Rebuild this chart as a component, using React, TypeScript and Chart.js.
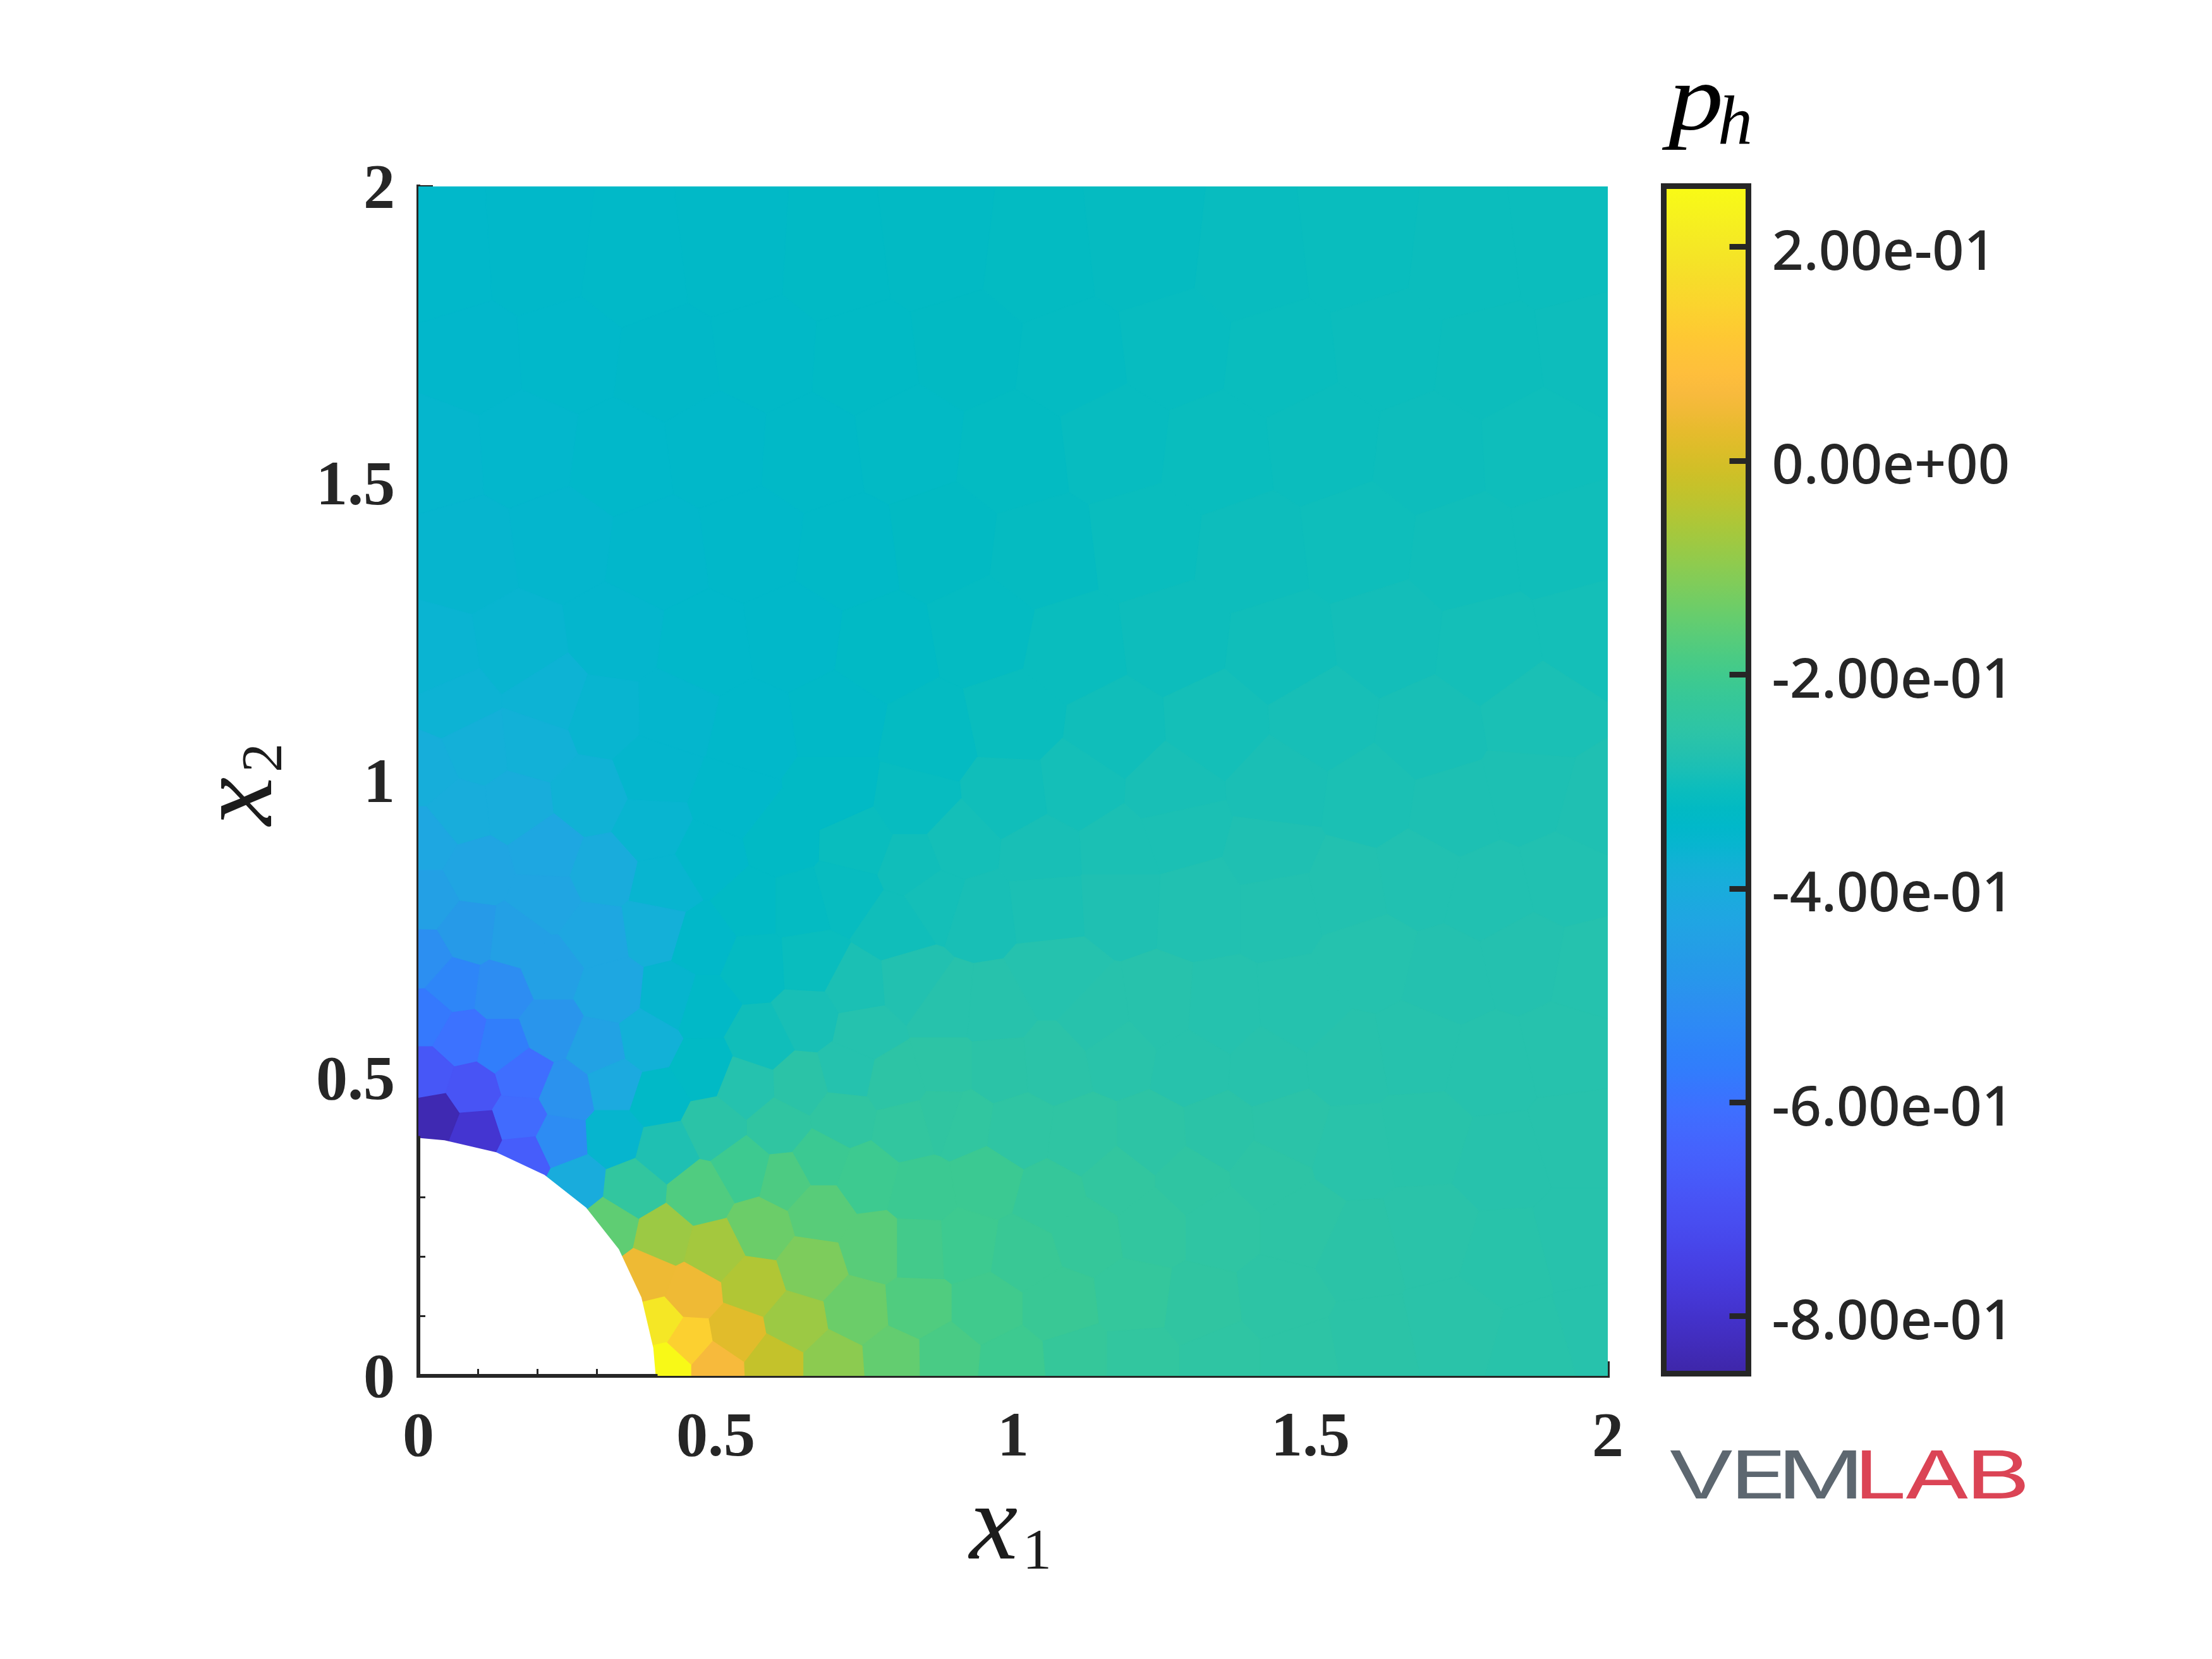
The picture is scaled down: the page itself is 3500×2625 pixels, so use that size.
import React, { useEffect, useRef } from "react";
import { Chart, registerables } from "chart.js";

Chart.register(...registerables);

// Each cell of the polygonal mesh: [x1, x2, p_h]
const cellsNearHoleRight: number[][] = [
  [.419,.020,.25],[.403,.089,.20],[.453,.057,.135],[.497,.018,.06],[.384,.167,.042],[.458,.139,.045],
  [.533,.071,.018],[.597,.022,-.027],[.561,.149,-.053],[.632,.089,-.08],[.696,.022,-.10],[.799,.029,-.15],
  [.738,.107,-.139],[.885,.030,-.185],[.497,.209,-.069],[.411,.231,-.08],[.660,.181,-.118],[.575,.248,-.139],
  [.474,.305,-.176],[.674,.277,-.165],[.767,.216,-.165],[.841,.216,-.195],[.837,.114,-.175],[.547,.347,-.205],
  [.616,.330,-.18],[.674,.362,-.21],[.752,.333,-.205],[.845,.309,-.21],[.416,.379,-.28],[.496,.418,-.255],
  [.607,.418,-.24],[.713,.436,-.24],[.820,.418,-.235],[.551,.486,-.27],[.643,.489,-.255],[.802,.493,-.25],
  [.721,.510,-.27],[.884,.436,-.24],[.362,.314,-.235],[.323,.250,-.155],
];
const cellsNearHoleTop: number[][] = [
  [.025,.435,-.84],[.096,.407,-.79],[.175,.368,-.66],[.169,.431,-.62],[.090,.480,-.69],[.013,.505,-.68],
  [.175,.505,-.61],[.071,.568,-.60],[.139,.553,-.565],[.013,.602,-.58],[.248,.475,-.50],[.236,.397,-.52],
  [.264,.324,-.40],[.328,.402,-.355],[.328,.490,-.41],[.303,.549,-.44],[.221,.583,-.49],[.139,.646,-.515],
  [.059,.656,-.54],[.322,.646,-.42],[.383,.563,-.38],[.425,.636,-.355],[.401,.466,-.335],[.478,.515,-.33],
];
const cellsUpperLeft: number[][] = [
  [.010,.700,-.51],[.084,.743,-.47],[.164,.734,-.45],[.221,.681,-.45],[.297,.739,-.42],[.397,.753,-.385],
  [.012,.800,-.45],[.098,.848,-.43],[.212,.800,-.43],[.311,.847,-.40],[.216,.881,-.42],[.012,.900,-.42],
  [.392,.919,-.36],[.411,.824,-.36],[.288,.971,-.375],[.397,1.014,-.35],[.164,.957,-.395],[.069,.947,-.395],
  [.012,1.014,-.39],[.098,1.052,-.385],[.193,1.061,-.38],[.311,1.108,-.36],[.487,.871,-.342],[.477,.729,-.34],
  [.525,.966,-.342],[.567,.691,-.32],[.658,.696,-.31],[.643,.790,-.32],[.577,.563,-.30],[.653,.601,-.29],
  [.477,.620,-.335],[.560,.790,-.33],[.610,.900,-.33],[.700,.980,-.33],
];
const cellsCentre: number[][] = [
  [1.0,.020,-.205],[1.103,.028,-.225],[1.211,.028,-.235],[1.347,.028,-.245],[1.482,.028,-.25],
  [.954,.113,-.20],[1.076,.113,-.215],[1.204,.127,-.23],[1.313,.113,-.24],[1.449,.127,-.25],
  [.92,.22,-.205],[1.015,.206,-.215],[1.123,.241,-.225],[1.232,.255,-.235],[1.347,.255,-.245],[1.482,.255,-.25],
  [.954,.327,-.21],[1.062,.298,-.225],[1.177,.327,-.235],[1.3,.327,-.243],[1.428,.341,-.25],
  [.913,.426,-.237],[1.008,.412,-.245],[1.116,.398,-.245],[1.232,.398,-.25],[1.347,.405,-.255],[1.462,.412,-.257],
  [.886,.519,-.25],[.974,.519,-.255],[1.069,.526,-.257],[1.177,.547,-.26],[1.3,.526,-.265],[1.428,.519,-.265],
  [.737,.654,-.285],[.825,.661,-.275],[.886,.618,-.265],[.967,.611,-.265],[1.069,.668,-.27],[1.143,.597,-.265],
  [1.245,.611,-.265],[1.347,.604,-.27],[1.482,.611,-.27],[.75,.58,-.27],
  [.716,.81,-.315],[.798,.754,-.30],[.872,.803,-.295],[.94,.782,-.29],[1.055,.796,-.285],[1.177,.803,-.28],
  [1.313,.796,-.277],[1.449,.796,-.275],
  [.737,.896,-.31],[.832,.86,-.30],[.906,.889,-.295],[1.049,.875,-.29],[1.177,.882,-.285],[1.279,.917,-.285],
  [1.435,.875,-.28],[.832,.96,-.315],[.994,.974,-.30],[1.11,.989,-.295],[1.265,.981,-.29],[1.449,.988,-.288],
];
const cellsRight: number[][] = [
  [1.60,.05,-.255],[1.74,.08,-.258],[1.88,.04,-.262],[1.98,.07,-.265],
  [1.58,.21,-.255],[1.70,.24,-.258],[1.83,.20,-.262],[1.95,.23,-.265],
  [1.57,.38,-.26],[1.69,.40,-.262],[1.82,.36,-.265],[1.95,.40,-.265],
  [1.56,.53,-.265],[1.68,.55,-.268],[1.80,.52,-.268],[1.93,.55,-.268],
  [1.60,.70,-.27],[1.73,.67,-.272],[1.86,.70,-.272],[1.97,.68,-.27],
  [1.56,.82,-.275],[1.68,.84,-.277],[1.80,.81,-.277],[1.93,.84,-.277],
  [1.60,.97,-.285],[1.74,.95,-.283],[1.87,.98,-.283],[1.98,.95,-.28],
];
const cellsUpper: number[][] = [
  [.06,1.13,-.37],[.22,1.14,-.37],[.43,1.11,-.35],[.56,1.08,-.342],[.70,1.10,-.335],[.86,1.07,-.32],
  [1.0,1.10,-.31],[1.17,1.08,-.30],[1.34,1.09,-.295],[1.52,1.10,-.292],[1.70,1.08,-.29],[1.88,1.11,-.287],
  [.03,1.20,-.365],[.17,1.22,-.36],[.33,1.24,-.35],[.48,1.22,-.343],[.63,1.24,-.34],[.78,1.22,-.33],
  [.95,1.25,-.32],[1.10,1.22,-.31],[1.27,1.24,-.305],[1.45,1.22,-.30],[1.63,1.24,-.297],[1.80,1.22,-.295],[1.97,1.25,-.295],
  [.08,1.38,-.355],[.24,1.40,-.35],[.40,1.38,-.345],[.56,1.40,-.34],[.72,1.38,-.335],[.88,1.40,-.325],
  [1.05,1.38,-.318],[1.22,1.40,-.31],[1.40,1.38,-.305],[1.58,1.40,-.303],[1.76,1.38,-.30],[1.93,1.40,-.30],
  [.03,1.55,-.352],[.18,1.56,-.347],[.34,1.54,-.343],[.50,1.56,-.34],[.66,1.55,-.335],[.82,1.57,-.328],
  [1.0,1.55,-.322],[1.17,1.57,-.315],[1.34,1.55,-.31],[1.52,1.57,-.307],[1.70,1.55,-.305],[1.88,1.56,-.303],
  [.09,1.71,-.345],[.25,1.72,-.342],[.42,1.70,-.338],[.58,1.72,-.335],[.75,1.71,-.33],[.92,1.73,-.325],
  [1.10,1.71,-.32],[1.27,1.73,-.315],[1.45,1.71,-.31],[1.63,1.73,-.308],[1.80,1.71,-.306],[1.97,1.73,-.305],
  [.04,1.87,-.342],[.20,1.88,-.34],[.36,1.86,-.337],[.53,1.88,-.334],[.70,1.87,-.33],[.87,1.89,-.326],
  [1.04,1.87,-.322],[1.22,1.89,-.318],[1.40,1.87,-.313],[1.58,1.89,-.31],[1.76,1.87,-.308],[1.93,1.89,-.307],
];

// The polygonal hole at the origin
const holeX = [0, 0, .044, .131, .212, .282, .337, .375, .395, .399];
const holeY = [0, .400, .396, .376, .338, .283, .213, .132, .047, 0];

const axisTicks = [0, .5, 1, 1.5, 2];
const axisTickLabels = ["0", "0.5", "1", "1.5", "2"];
const minorTicks = [.1, .2, .3];
const barTicks = [.2, 0, -.2, -.4, -.6, -.8];
const barTickLabels = ["2.00e-01", "0.00e+00", "-2.00e-01", "-4.00e-01", "-6.00e-01", "-8.00e-01"];
const barMin = -.8535;
const barMax = .257;

const parula: number[][] = [
  [.2422,.1504,.6603],[.2504,.165,.7076],[.2578,.1818,.7511],[.2647,.1978,.7952],[.2706,.2147,.8364],[.2751,.2342,.871],
  [.2783,.2559,.8991],[.2803,.2782,.9221],[.2813,.3006,.9414],[.281,.3228,.9579],[.2795,.3447,.9717],[.276,.3667,.9829],
  [.2699,.3892,.9906],[.2602,.4123,.9952],[.244,.4358,.9988],[.2206,.4603,.9973],[.1963,.4847,.9892],[.1834,.5074,.9798],
  [.1786,.5289,.9682],[.1764,.5499,.952],[.1687,.5703,.9359],[.154,.5902,.9218],[.146,.6091,.9079],[.138,.6276,.8973],
  [.1248,.6459,.8883],[.1113,.6635,.8763],[.0952,.6798,.8598],[.0689,.6948,.8394],[.0297,.7082,.8163],[.0036,.7203,.7917],
  [.0067,.7312,.766],[.0433,.7411,.7394],[.0964,.75,.712],[.1408,.7584,.6842],[.1717,.767,.6554],[.1938,.7758,.6251],
  [.2161,.7843,.5923],[.247,.7918,.5567],[.2906,.7973,.5188],[.3406,.8008,.4789],[.3909,.8029,.4354],[.4456,.8024,.3909],
  [.5044,.7993,.348],[.5616,.7942,.3045],[.6174,.7876,.2612],[.672,.7793,.2227],[.7242,.7698,.191],[.7738,.7598,.1646],
  [.8203,.7498,.1535],[.8634,.7406,.1596],[.9035,.733,.1774],[.9393,.7288,.21],[.9728,.7298,.2394],[.9956,.7434,.2371],
  [.997,.7659,.2199],[.9952,.7861,.1996],[.9892,.8135,.1885],[.9786,.8386,.1766],[.9676,.8639,.1643],[.961,.889,.1537],
  [.9597,.9135,.1423],[.9628,.9373,.1265],[.9691,.9606,.1064],[.9769,.9839,.0805],
];

const INK = "#262626";
const PLOT = { left: 662, right: 2544, top: 295, bottom: 2177 };
const BAR = { left: 2632.5, right: 2766.5, top: 294.5, bottom: 2173.5 };

function colorAt(frac: number): string {
  const t = Math.min(1, Math.max(0, frac)) * (parula.length - 1);
  const i = Math.min(parula.length - 2, Math.floor(t));
  const f = t - i;
  const c = parula[i].map((a, k) => Math.round(255 * (a + (parula[i + 1][k] - a) * f)));
  return `rgb(${c[0]},${c[1]},${c[2]})`;
}
const colorOf = (v: number) => colorAt((v - barMin) / (barMax - barMin));

type Pt = { x: number; y: number };

// Cell shape: the part of the domain closer to this cell's centre than to any other.
function cellPolygon(index: number, all: number[][]): Pt[] {
  let poly: Pt[] = [{ x: 0, y: 0 }, { x: 2, y: 0 }, { x: 2, y: 2 }, { x: 0, y: 2 }];
  const s = all[index];
  for (let j = 0; j < all.length && poly.length; j++) {
    if (j === index) continue;
    const t = all[j];
    const nx = t[0] - s[0];
    const ny = t[1] - s[1];
    const mx = (s[0] + t[0]) / 2;
    const my = (s[1] + t[1]) / 2;
    const side = (p: Pt) => (p.x - mx) * nx + (p.y - my) * ny;
    const out: Pt[] = [];
    for (let k = 0; k < poly.length; k++) {
      const a = poly[k];
      const b = poly[(k + 1) % poly.length];
      const da = side(a);
      const db = side(b);
      if (da <= 0) out.push(a);
      if (da * db < 0) {
        const u = da / (da - db);
        out.push({ x: a.x + (b.x - a.x) * u, y: a.y + (b.y - a.y) * u });
      }
    }
    poly = out;
  }
  return poly;
}

const logoLetters = [
  { ch: "V", x0: 2642, x1: 2742, color: "#5D6770" },
  { ch: "E", x0: 2750, x1: 2818, color: "#5D6770" },
  { ch: "M", x0: 2825, x1: 2937, color: "#5D6770" },
  { ch: "L", x0: 2946, x1: 3011, color: "#DB4455" },
  { ch: "A", x0: 3015, x1: 3115, color: "#DB4455" },
  { ch: "B", x0: 3123, x1: 3205, color: "#DB4455" },
];

const annotations = {
  id: "annotations",
  afterDraw(chart: any) {
    const ctx = chart.ctx as CanvasRenderingContext2D;
    ctx.save();
    ctx.textBaseline = "alphabetic";
    ctx.textAlign = "left";
    ctx.fillStyle = "#1c1c1c";
    ctx.font = "italic 172px 'Liberation Serif'";
    ctx.fillText("x", 1534, 2466);
    ctx.font = "92px 'Liberation Serif'";
    ctx.fillText("1", 1618, 2482);

    ctx.save();
    ctx.translate(429, 1306);
    ctx.rotate(-Math.PI / 2);
    ctx.font = "italic 172px 'Liberation Serif'";
    ctx.fillText("x", 0, 0);
    ctx.font = "92px 'Liberation Serif'";
    ctx.fillText("2", 84, 16);
    ctx.restore();

    ctx.fillStyle = "#000";
    ctx.save();
    ctx.translate(2640, 205);
    ctx.scale(1.16, 1);
    ctx.font = "italic 150px 'Liberation Serif'";
    ctx.fillText("p", 0, 0);
    ctx.restore();
    ctx.font = "italic 110px 'Liberation Serif'";
    ctx.fillText("h", 2718, 228);

    for (const l of logoLetters) {
      ctx.font = "400 104px Inter";
      const m = ctx.measureText(l.ch);
      const w = m.actualBoundingBoxRight + m.actualBoundingBoxLeft;
      ctx.save();
      ctx.translate(l.x0, 2371);
      ctx.scale((l.x1 - l.x0) / w, 76 / m.actualBoundingBoxAscent);
      ctx.fillStyle = l.color;
      ctx.fillText(l.ch, m.actualBoundingBoxLeft, 0);
      ctx.restore();
    }
    ctx.restore();
  },
};

const barFrame = {
  id: "barFrame",
  afterDraw(chart: any) {
    const { left, right, top, bottom } = chart.chartArea;
    const ctx = chart.ctx as CanvasRenderingContext2D;
    ctx.save();
    ctx.strokeStyle = INK;
    ctx.lineWidth = 9;
    ctx.strokeRect(left, top, right - left, bottom - top);
    ctx.restore();
  },
};

export default function App() {
  const mainRef = useRef<HTMLCanvasElement>(null);
  const barRef = useRef<HTMLCanvasElement>(null);

  useEffect(() => {
    const cells = [...cellsNearHoleRight, ...cellsNearHoleTop, ...cellsUpperLeft, ...cellsCentre, ...cellsRight, ...cellsUpper];
    const polygonSets = cells.map((c, i) => {
      const poly = cellPolygon(i, cells);
      const col = colorOf(c[2]);
      return {
        data: [...poly, poly[0]],
        showLine: true,
        fill: "shape" as const,
        backgroundColor: col,
        borderColor: col,
        borderWidth: 1.5,
        pointRadius: 0,
        tension: 0,
      };
    });
    const holeSet = {
      data: holeX.map((x, i) => ({ x, y: holeY[i] })),
      showLine: true,
      fill: "shape" as const,
      backgroundColor: "#ffffff",
      borderColor: "#ffffff",
      borderWidth: 0,
      pointRadius: 0,
      tension: 0,
    };
    // The axis lines keep their full width where they run along the hole.
    const holeAxis = (data: Pt[]) => ({
      data,
      showLine: true,
      fill: false,
      borderColor: INK,
      borderWidth: 6,
      borderCapStyle: "square" as const,
      pointRadius: 0,
      tension: 0,
      clip: false,
    });
    const axisAlongHole = [
      holeAxis([{ x: holeX[0], y: holeY[0] }, { x: holeX[1], y: holeY[1] }]),
      holeAxis([{ x: holeX[0], y: holeY[0] }, { x: holeX[9], y: holeY[9] }]),
    ];

    const tickFont = { family: "'Liberation Serif'", weight: "bold" as const, size: 100 };
    const majorScale = (axis: "x" | "y", position: string) => ({
      type: "linear",
      axis,
      position,
      min: 0,
      max: 2,
      afterBuildTicks: (s: any) => { s.ticks = axisTicks.map((value) => ({ value })); },
      afterFit: (s: any) => { if (axis === "x") s.height = 150; else s.width = 200; },
      grid: { drawOnChartArea: false, tickLength: -23, tickWidth: 5, tickColor: INK },
      border: { display: true, color: INK, width: 6 },
      ticks: {
        autoSkip: false,
        maxRotation: 0,
        padding: axis === "x" ? 63 : 60,
        labelOffset: axis === "y" ? 7 : 0,
        color: INK,
        font: tickFont,
        callback: (_v: any, i: number) => axisTickLabels[i],
      },
    });
    const minorScale = (axis: "x" | "y", position: string) => ({
      type: "linear",
      axis,
      position,
      weight: -1,
      min: 0,
      max: 2,
      afterBuildTicks: (s: any) => { s.ticks = minorTicks.map((value) => ({ value })); },
      afterFit: (s: any) => { if (axis === "x") s.height = 0; else s.width = 0; },
      grid: { drawOnChartArea: false, tickLength: -11, tickWidth: 3, tickColor: INK, z: 1 },
      border: { display: false },
      ticks: { display: false },
    });

    const main = new Chart(mainRef.current!, {
      type: "scatter",
      data: { datasets: [...axisAlongHole, holeSet, ...polygonSets] as any },
      plugins: [annotations],
      options: {
        animation: false,
        responsive: false,
        devicePixelRatio: 1,
        layout: {
          padding: {
            left: PLOT.left - 200,
            right: 3500 - PLOT.right,
            top: PLOT.top,
            bottom: 2625 - PLOT.bottom - 150,
          },
        },
        plugins: { legend: { display: false }, title: { display: false }, tooltip: { enabled: false } },
        scales: {
          x: majorScale("x", "bottom"),
          y: majorScale("y", "left"),
          xMinor: minorScale("x", "bottom"),
          yMinor: minorScale("y", "left"),
        } as any,
      },
    });

    const barGradient = (ctx: any) => {
      const area = ctx.chart.chartArea;
      if (!area) return "#00b8c8";
      const g = ctx.chart.ctx.createLinearGradient(0, area.bottom, 0, area.top);
      parula.forEach((_c, i) => {
        const f = i / (parula.length - 1);
        g.addColorStop(f, colorAt(f));
      });
      return g;
    };

    const bar = new Chart(barRef.current!, {
      type: "bar",
      data: {
        labels: ["p_h"],
        datasets: [{
          data: [[barMin, barMax]],
          backgroundColor: barGradient,
          borderWidth: 0,
          barPercentage: 1,
          categoryPercentage: 1,
        }] as any,
      },
      plugins: [barFrame],
      options: {
        animation: false,
        responsive: false,
        devicePixelRatio: 1,
        layout: {
          padding: {
            left: BAR.left,
            right: 3500 - BAR.right - 600,
            top: BAR.top,
            bottom: 2625 - BAR.bottom,
          },
        },
        plugins: { legend: { display: false }, title: { display: false }, tooltip: { enabled: false } },
        scales: {
          x: { display: false, offset: true },
          y: {
            type: "linear",
            position: "right",
            min: barMin,
            max: barMax,
            afterBuildTicks: (s: any) => { s.ticks = barTicks.map((value) => ({ value })); },
            afterFit: (s: any) => { s.width = 600; },
            grid: { drawOnChartArea: false, tickLength: -30, tickWidth: 9, tickColor: INK, z: 1 },
            border: { display: false },
            ticks: {
              autoSkip: false,
              padding: 67,
              labelOffset: 11,
              color: INK,
              font: { family: "'Noto Sans'", size: 88, weight: "500" },
              callback: (_v: any, i: number) => barTickLabels[i],
            },
          },
        } as any,
      },
    });

    return () => {
      main.destroy();
      bar.destroy();
    };
  }, []);

  const canvasStyle: React.CSSProperties = { position: "absolute", left: 0, top: 0, width: 3500, height: 2625 };
  return (
    <div style={{ position: "absolute", left: 0, top: 0, width: 3500, height: 2625, background: "#fff" }}>
      <canvas ref={mainRef} width={3500} height={2625} style={canvasStyle} />
      <canvas ref={barRef} width={3500} height={2625} style={canvasStyle} />
    </div>
  );
}
